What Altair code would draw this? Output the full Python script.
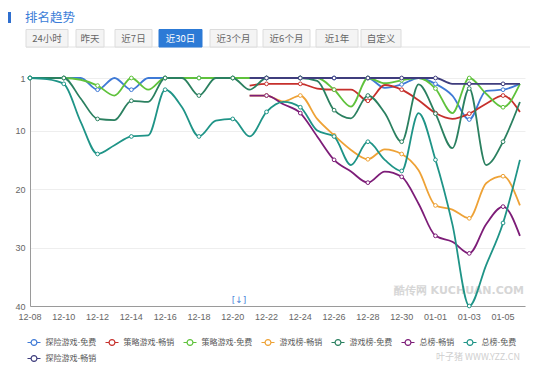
import json
import altair as alt
import pandas as pd

# ---------------- data ----------------
dates = ["12-08", "12-09", "12-10", "12-11", "12-12", "12-13", "12-14", "12-15",
         "12-16", "12-17", "12-18", "12-19", "12-20", "12-21", "12-22", "12-23",
         "12-24", "12-25", "12-26", "12-27", "12-28", "12-29", "12-30", "12-31",
         "01-01", "01-02", "01-03", "01-04", "01-05", "01-06"]

series_names = ["探险游戏-免费", "策略游戏-畅销", "策略游戏-免费", "游戏榜-畅销",
                "游戏榜-免费", "总榜-畅销", "总榜-免费", "探险游戏-畅销"]
series_colors = ["#3f7ad6", "#c6302c", "#5fc23c", "#eea236",
                 "#2b8060", "#7d1d78", "#1f9487", "#3f3d7d"]

N = None
adventure_free = [1, 1, 1, 1, 3, 1, 3, 1, 1, 1, 1, 1, 1, 1, 1, 1, 1, 1, 1, 1,
                  1, 2.7, 2.1, 1, 2, 4, 8.1, 3.2, 3, 2]
strategy_grossing = [N, N, N, N, N, N, N, N, N, N, N, N, N, 2.3, 2, 2, 2, 2.8, 3, 3,
                     4.9, 2.2, 3, 4.8, 7, 8, 7.1, 5.4, 4, 6.8]
strategy_free = [1, 1, 1, 1.3, 2.3, 4, 1, 3, 1, 1, 1, 1, 1, 1, 1, 1, 1, 1, 3, 5.9,
                 1, 1.9, 1.4, 1, 2.8, 7, 1, 3.7, 6, 2]
games_grossing = [N, N, N, N, N, N, N, N, N, N, N, N, N, 4, 4, 5, 4, 8, 10.8, 13.3,
                  14.9, 13.2, 14, 16.8, 22.8, 23.5, 25, 19, 17.8, 22.8]
games_free = [1, 1, 1, 4.5, 8, 8.2, 4.9, 5.1, 1, 1, 4, 1, 1, 3, 1, 1, 1, 1.5, 6.5, 7.9,
              4, 7, 11.9, 2.1, 7.1, 13, 2.8, 15.9, 11.9, 5.1]
overall_grossing = [N, N, N, N, N, N, N, N, N, N, N, N, N, 4, 4, 5.5, 7, 11, 15, 17,
                    18.9, 17, 17.9, 22.5, 28, 29, 31, 26, 23, 28]
overall_free = [1, 1.2, 2, 8.5, 14, 12.5, 11, 10.8, 3, 6, 11, 8.3, 8, 11, 6.8, 5.1, 6, 10, 11, 15.9,
                11.9, 15, 16.9, 7, 15, 26, 40, 33, 25.8, 15]
adventure_grossing = [N, N, N, N, N, N, N, N, N, N, N, N, N, 1, 1, 1, 1, 1, 1, 1,
                      1, 1, 1, 1, 1, 2, 2, 2, 2, 2]

all_series = [adventure_free, strategy_grossing, strategy_free, games_grossing,
              games_free, overall_grossing, overall_free, adventure_grossing]

x_tick_days = list(range(0, 29, 2))
x_tick_labels = [dates[d] for d in x_tick_days]
y_ticks = [1, 10, 20, 30, 40]

buttons = ["24小时", "昨天", "近7日", "近30日", "近3个月", "近6个月", "近1年", "自定义"]
active_button = "近30日"

rows = []
for name, vals in zip(series_names, all_series):
    for i, v in enumerate(vals):
        if v is not None:
            rows.append({"series": name, "day": i, "rank": v})
df = pd.DataFrame(rows)
ticks_df = pd.DataFrame({"day": x_tick_days, "label": x_tick_labels})

# ---------------- layout (plot origin is page x=30, y=78) ----------------
FONT = "Noto Sans CJK SC"
NUM_FONT = "Liberation Sans"
W, H = 495, 228

legend_path = ("M-1,0H-0.45M0.45,0H1M0.45,0A0.45,0.45,0,1,1,-0.45,0"
               "A0.45,0.45,0,1,1,0.45,0")

x_scale = alt.Scale(domain=[0, 29.3], nice=False, zero=False)

color = alt.Color(
    "series:N",
    sort=series_names,
    scale=alt.Scale(domain=series_names, range=series_colors),
    legend=alt.Legend(
        title=None, orient="none", legendX=-3.5, legendY=257,
        direction="horizontal", columns=7, gridAlign="none",
        symbolType=legend_path, symbolSize=169, symbolStrokeWidth=1.2,
        symbolFillColor="white",
        labelFont=FONT, labelFontSize=8, labelColor="#555",
        labelOffset=4, columnPadding=6, rowPadding=3, labelLimit=0,
    ),
)

x_enc = alt.X(
    "day:Q",
    scale=x_scale,
    axis=alt.Axis(
        values=x_tick_days, title=None, grid=False, ticks=False, labels=False,
        domainColor="#9a9a9a",
    ),
)
y_enc = alt.Y(
    "rank:Q",
    scale=alt.Scale(domain=[1, 40], reverse=True, nice=False, zero=False),
    axis=alt.Axis(
        values=y_ticks, title=None, ticks=False, grid=True,
        gridColor="#eeeeee", domainColor="#9a9a9a", labelColor="#666",
        labelFontSize=9, labelFont=NUM_FONT, labelPadding=5,
    ),
)

base = alt.Chart(df)
lines = base.mark_line(interpolate="monotone", strokeWidth=1.8).encode(
    x=x_enc, y=y_enc, color=color
)
points = base.transform_filter("datum.day % 2 == 0").mark_point(
    shape="circle", filled=False, fill="white", size=14, strokeWidth=1, opacity=1
).encode(
    x="day:Q", y="rank:Q",
    color=alt.Color("series:N", sort=series_names,
                    scale=alt.Scale(domain=series_names, range=series_colors),
                    legend=None),
)

x_labels = alt.Chart(ticks_df).mark_text(
    font=NUM_FONT, fontSize=9, color="#666", align="center", baseline="middle"
).encode(x="day:Q", y=alt.value(H + 11), text="label:N")

one = pd.DataFrame({"k": [0]})

# header: blue bar + title
header = [
    alt.Chart(one).mark_rect(color="#2f6fcf").encode(
        x=alt.value(-23), x2=alt.value(-19), y=alt.value(-66), y2=alt.value(-55)),
    alt.Chart(one).mark_text(text="排名趋势", font=FONT, fontSize=12.5, color="#3b7dd8",
                             align="left", baseline="middle").encode(
        x=alt.value(-5), y=alt.value(-60.5)),
    alt.Chart(one).mark_rule(color="#e2e2e2", strokeWidth=1).encode(
        x=alt.value(-4), x2=alt.value(W + 5), y=alt.value(-31)),
]

btn_left = [-4, 46, 85, 129, 180, 233, 286, 331]
btn_right = [38, 74, 122, 172, 227, 280, 328, 371]
for lab, x0, x1 in zip(buttons, btn_left, btn_right):
    act = lab == active_button
    header.append(
        alt.Chart(one).mark_rect(
            color="#2c7ad6" if act else "#f4f4f4",
            stroke="#2c7ad6" if act else "#dcdcdc", strokeWidth=1,
        ).encode(x=alt.value(x0), x2=alt.value(x1), y=alt.value(-48.5), y2=alt.value(-31))
    )
    header.append(
        alt.Chart(one).mark_text(
            text=lab, font=FONT, fontSize=9.5, color="white" if act else "#666",
            align="center", baseline="middle",
        ).encode(x=alt.value((x0 + x1) / 2), y=alt.value(-39.5))
    )

watermarks = [
    alt.Chart(one).mark_text(text="酷传网 KUCHUAN.COM", font="DejaVu Sans", fontSize=11,
                             fontWeight="bold", color="#d6d6d6", align="right",
                             baseline="middle").encode(x=alt.value(494), y=alt.value(213)),
    alt.Chart(one).mark_text(text="[↓]", font="DejaVu Sans", fontSize=9, color="#4a86d8",
                             align="center", baseline="middle").encode(
        x=alt.value(209), y=alt.value(222)),
]

yzz = [
    alt.Chart(one).mark_text(text="叶子猪 WWW.YZZ.CN", font=FONT, fontSize=9,
                             color="#cfcfcf", align="right",
                             baseline="middle").encode(
        x=alt.value(490), y=alt.value(279)),
]

chart = alt.layer(
    *header, *watermarks, lines, points, x_labels, *yzz
).properties(
    width=W, height=H,
    autosize=alt.AutoSizeParams(type="none"),
    padding={"left": 22, "top": 70, "right": 7, "bottom": 58},
).configure_view(strokeWidth=0)

chart.save("out.html", embed_options={"renderer": "svg", "actions": False})
